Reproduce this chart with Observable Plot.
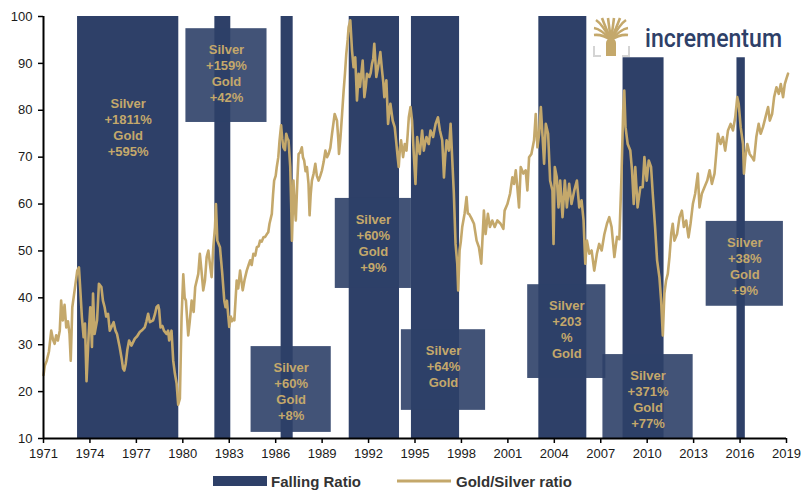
<!DOCTYPE html>
<html><head><meta charset="utf-8">
<script src="https://cdn.jsdelivr.net/npm/d3@7"></script>
<script src="https://cdn.jsdelivr.net/npm/@observablehq/plot@0.6"></script>
<style>
body{margin:0;background:#fff;font-family:Arial,"Liberation Sans",sans-serif;}
#wrap{position:relative;width:811px;height:490px;overflow:hidden;}
#legend{position:absolute;left:0;top:465px;width:811px;height:25px;}
#logo{position:absolute;left:590px;top:12px;}
</style></head><body>
<div id="wrap"><div id="chart"></div><div id="legend"></div>
<svg id="logo" width="210" height="50">
  <g stroke="#c4a86b" stroke-width="2.6" stroke-linecap="butt" fill="none">
    <path d="M21,28 Q12,22 4,23"/>
    <path d="M21,28 Q11,17 4,16"/>
    <path d="M21,28 Q12,12 6,8"/>
    <path d="M21,28 Q15,14 12,6"/>
    <path d="M21,28 Q19,14 18,6"/>
    <path d="M21,28 Q23,14 24,6"/>
    <path d="M21,28 Q27,14 30,6"/>
    <path d="M21,28 Q30,12 36,8"/>
    <path d="M21,28 Q31,17 38,16"/>
    <path d="M21,28 Q30,22 38,23"/>
  </g>
  <path d="M16,44 L16,31 Q16,27 21,26 Q26,27 26,31 L26,44 Z" fill="#c4a86b"/>
  <g stroke="#d4d4d4" stroke-width="2" fill="none">
    <path d="M4,34 V44 H11"/>
    <path d="M39,34 V44 H32"/>
  </g>
  <text x="55" y="35" font-family="Roboto, Arial, sans-serif" font-weight="500" font-size="25" fill="#2e4068" textLength="137" lengthAdjust="spacingAndGlyphs">incrementum</text>
</svg>
</div>
<script>
// Gold/Silver ratio
const ratioYears = [1971.00,1971.08,1971.20,1971.35,1971.50,1971.62,1971.72,1971.82,1971.93,1972.05,1972.14,1972.25,1972.36,1972.47,1972.58,1972.68,1972.76,1972.86,1973.01,1973.18,1973.29,1973.38,1973.48,1973.59,1973.68,1973.78,1973.92,1974.02,1974.13,1974.20,1974.30,1974.46,1974.58,1974.74,1974.84,1974.95,1975.05,1975.17,1975.28,1975.38,1975.53,1975.65,1975.75,1975.92,1976.05,1976.14,1976.22,1976.31,1976.42,1976.53,1976.68,1976.90,1977.05,1977.22,1977.40,1977.54,1977.65,1977.76,1977.87,1978.08,1978.20,1978.30,1978.41,1978.47,1978.56,1978.68,1978.78,1978.95,1979.05,1979.12,1979.27,1979.38,1979.49,1979.60,1979.70,1979.81,1979.92,1980.03,1980.12,1980.20,1980.35,1980.45,1980.57,1980.70,1980.80,1981.00,1981.10,1981.20,1981.32,1981.43,1981.54,1981.65,1981.76,1981.86,1981.97,1982.08,1982.14,1982.23,1982.40,1982.55,1982.68,1982.76,1982.85,1983.00,1983.10,1983.16,1983.25,1983.33,1983.48,1983.58,1983.70,1983.87,1984.00,1984.13,1984.25,1984.35,1984.45,1984.56,1984.68,1984.78,1984.90,1984.99,1985.10,1985.21,1985.32,1985.43,1985.52,1985.60,1985.75,1985.83,1985.90,1986.00,1986.07,1986.17,1986.25,1986.35,1986.42,1986.50,1986.60,1986.68,1986.76,1986.83,1986.94,1987.00,1987.05,1987.10,1987.15,1987.22,1987.30,1987.40,1987.48,1987.58,1987.69,1987.76,1987.84,1987.93,1988.02,1988.12,1988.19,1988.26,1988.34,1988.45,1988.56,1988.66,1988.77,1988.88,1988.99,1989.10,1989.21,1989.32,1989.42,1989.53,1989.64,1989.72,1989.81,1989.96,1990.04,1990.09,1990.18,1990.29,1990.39,1990.48,1990.56,1990.65,1990.71,1990.82,1990.93,1991.03,1991.14,1991.25,1991.36,1991.45,1991.51,1991.62,1991.73,1991.82,1991.90,1992.05,1992.14,1992.22,1992.30,1992.37,1992.45,1992.50,1992.65,1992.76,1992.87,1992.95,1993.02,1993.15,1993.26,1993.35,1993.41,1993.56,1993.69,1993.80,1993.88,1993.95,1994.03,1994.10,1994.23,1994.34,1994.45,1994.53,1994.60,1994.71,1994.81,1994.92,1995.03,1995.14,1995.22,1995.31,1995.46,1995.57,1995.65,1995.74,1995.89,1996.00,1996.17,1996.33,1996.48,1996.61,1996.76,1996.87,1996.95,1997.04,1997.19,1997.30,1997.41,1997.51,1997.62,1997.73,1997.79,1997.88,1997.96,1998.05,1998.20,1998.33,1998.41,1998.49,1998.64,1998.81,1998.98,1999.13,1999.28,1999.45,1999.56,1999.71,1999.84,1999.99,2000.15,2000.32,2000.53,2000.71,2000.79,2000.97,2001.14,2001.29,2001.40,2001.51,2001.61,2001.72,2001.83,2002.00,2002.15,2002.26,2002.37,2002.52,2002.69,2002.80,2002.91,2003.02,2003.13,2003.23,2003.34,2003.45,2003.60,2003.73,2003.88,2003.95,2004.03,2004.16,2004.27,2004.38,2004.53,2004.68,2004.81,2004.96,2005.11,2005.29,2005.46,2005.61,2005.76,2005.89,2006.00,2006.11,2006.26,2006.41,2006.58,2006.75,2006.90,2007.06,2007.23,2007.40,2007.55,2007.70,2007.88,2008.05,2008.20,2008.33,2008.45,2008.52,2008.60,2008.74,2008.91,2009.02,2009.13,2009.23,2009.38,2009.56,2009.71,2009.82,2009.97,2010.10,2010.25,2010.36,2010.51,2010.64,2010.79,2010.90,2011.01,2011.11,2011.22,2011.33,2011.44,2011.55,2011.65,2011.76,2011.93,2012.09,2012.24,2012.37,2012.52,2012.67,2012.80,2012.95,2013.10,2013.27,2013.38,2013.53,2013.70,2013.88,2014.03,2014.18,2014.35,2014.46,2014.57,2014.74,2014.89,2015.04,2015.22,2015.39,2015.54,2015.69,2015.82,2015.91,2016.04,2016.19,2016.25,2016.34,2016.47,2016.62,2016.77,2016.90,2017.05,2017.20,2017.33,2017.48,2017.64,2017.81,2017.92,2018.07,2018.20,2018.35,2018.50,2018.63,2018.78,2018.89,2018.99,2019.10];
const ratioValues = [23.5,25.5,26.5,28.5,33,31,30.2,32,30.9,33,39.4,35.2,38.5,33.7,35,32.3,26.6,38,41.6,45.8,46.5,41.6,35.9,31.6,34.5,22.2,32.3,38,29.5,40.9,32.3,35.2,43,42.3,39.4,38,36,36.6,33,33.7,34.8,33,32.3,29.5,27,24.9,24.5,25.9,29,30.9,29.8,31.3,31.8,32.7,33.2,33.7,35,36.6,34.8,35.2,36.5,38,38.4,37.5,33.7,34,33,32.3,33,30.9,33,26.6,23.8,21.7,17.2,18.5,35.9,45,40,39.4,32,35,39.4,37,42.3,45.1,49.4,46,41.6,43.7,48.7,50.1,47,44.4,50.8,55.1,60,52.2,50.8,45.1,39.4,38,39.4,33.8,36,35,35.5,35.2,43.7,42,45.8,41.6,44,45.8,47,48,47,49.4,49,50.8,51,52.2,52,52.9,53,53.6,54,55.8,57.9,62,65,66,67.9,70,73.6,76.8,74,72.1,71.5,75,74,73.6,67.9,60,52.2,58,65,60,56.5,65,70.7,71,72.1,70,69.3,67,67.9,64.3,57.6,62,65,66.5,68.6,66,65,66,67.2,69,71.4,70,70.7,72,75,77,79.2,77.8,74,70.7,74,79.2,84.2,88,92,95,97.7,99.2,92.8,89.2,91.3,82.1,87.8,85,87.1,90.6,82.8,85,87.8,87.1,88,89.9,91,94.2,90,87.1,89.9,92.4,88.5,86,82.8,86.4,77.1,80,81.4,77.8,76.4,72.8,70,67.9,72,73.6,70,72.8,71.4,75,78.5,80.7,77.8,70.7,64.3,74.3,72,70.7,75.7,71.4,73,74.3,72.8,75.7,74.3,77.1,78.5,75.7,73.6,65.7,70,73.6,71.4,77.1,69.3,62.2,51.5,47.3,41.6,50.1,52,55.1,57.9,61.5,58,57.9,57,55.8,52.2,50.8,47.3,58.6,53.6,57.9,55.1,56.5,55.1,56.5,55.8,54.7,58.6,60,62.2,65.7,64.3,67.2,63.6,59.3,67.9,66.5,67.2,62.9,70,70.7,73.6,79.2,72.1,75,80.7,75,68.6,77.1,75,65,62.9,51.5,67.9,65.7,59.3,65,57.2,65,59.3,64.3,60,62.9,65,59.3,60.8,56.5,47.3,52.2,49.4,50.1,45.8,49.4,51.5,50.1,53.5,55.8,57.2,55.1,48.7,53,52.5,65,80,84.2,76.4,72.8,71.4,67.2,60,67.9,59.3,63.6,63.6,70,65,69.3,67.9,62.2,55.1,48,44.4,39.4,32,40.9,43.7,45.1,48.7,53.6,55.8,52.2,53.6,57.2,58.6,55.1,56.5,52.9,55.8,60,62.2,66.5,59.3,62.2,63.6,65,67.2,64.3,66.5,70.7,75,72.8,74.3,71.4,75.7,77.1,75.7,78.5,82.8,81.4,76.4,72.8,66.5,70,72.8,70.7,70,69.3,74.3,77.1,75,76.4,78.5,80.7,77.8,79.2,82.8,84.9,83.5,85.6,82.8,85.6,86.7,87.8];

// Falling ratio periods
const fallStart = [1973.2, 1982.07, 1986.35, 1990.75, 1994.77, 2003.0, 2008.44, 2015.8];
const fallEnd   = [1979.74, 1983.1, 1987.13, 1994.0, 1997.88, 2006.1, 2011.09, 2016.34];
const fallTop   = [100, 100, 100, 100, 100, 100, 91.2, 91.2];

// Annotations (box extents in data units)
const noteText = ["Silver\n+1811%\nGold\n+595%", "Silver\n+159%\nGold\n+42%", "Silver\n+60%\nGold\n+8%", "Silver\n+60%\nGold\n+9%", "Silver\n+64%\nGold", "Silver\n+203\n%\nGold", "Silver\n+371%\nGold\n+77%", "Silver\n+38%\nGold\n+9%"];
const noteX1     = [1973.2, 1980.2, 1984.41, 1989.85, 1994.12, 2002.28, 2007.14, 2013.81];
const noteX2     = [1979.74, 1985.44, 1989.59, 1994.77, 1999.56, 2007.33, 2012.97, 2018.8];
const noteTop    = [86.0, 97.4, 29.6, 61.2, 33.2, 42.8, 27.9, 56.3];
const noteBottom = [null, 77.4, 11.3, 42.0, 16.0, 22.8, 10, 38.2];

const yearTicks = d3.range(1971, 2020, 3);
const ratioTicks = d3.range(10, 101, 10);

const navy = "#2e4068";
const gold = "#c4a86b";
const yMin = 10;

const series = ratioYears.map((y, i) => ({year: y, ratio: ratioValues[i]}));
const falls = fallStart.map((s, i) => ({start: s, end: fallEnd[i], top: fallTop[i]}));
const notes = noteText.map((t, i) => ({label: t, x1: noteX1[i], x2: noteX2[i], cx: (noteX1[i] + noteX2[i]) / 2, top: noteTop[i], bottom: noteBottom[i]}));
const boxes = notes.filter(d => d.bottom != null);

const chart = Plot.plot({
  width: 811, height: 465,
  marginLeft: 43, marginRight: 25, marginTop: 16, marginBottom: 27,
  style: {fontFamily: "Arial, 'Liberation Sans', sans-serif", fontSize: "13px", color: "#1a1a1a", background: "white", overflow: "visible"},
  x: {domain: [1971, 2019]},
  y: {domain: [10, 100]},
  marks: [
    Plot.rect(falls, {x1: "start", x2: "end", y1: () => yMin, y2: "top", fill: navy}),
    Plot.rect(boxes, {x1: "x1", x2: "x2", y1: "bottom", y2: "top", fill: navy, fillOpacity: 0.9}),
    Plot.line(series, {x: "year", y: "ratio", stroke: gold, strokeWidth: 2.6, strokeLinejoin: "round"}),
    Plot.text(notes, {x: "cx", y: "top", text: "label", lineAnchor: "top", dy: 14, fill: gold, fontWeight: "bold", fontSize: 13, lineHeight: 16/13}),
    Plot.axisX({ticks: yearTicks, tickFormat: d => String(d), tickSize: 5, tickPadding: 5, stroke: "#000", strokeWidth: 1.5}),
    Plot.axisY({ticks: ratioTicks, tickSize: 5, tickPadding: 6, stroke: "#000", strokeWidth: 1.5}),
    Plot.ruleX([1971], {stroke: "#000", strokeWidth: 2}),
    Plot.ruleY([yMin], {stroke: "#000", strokeWidth: 2})
  ]
});
document.getElementById("chart").appendChild(chart);

// Legend
const legend = d3.select("#legend").append("svg").attr("width", 811).attr("height", 25);
legend.append("rect").attr("x", 213).attr("y", 11).attr("width", 54).attr("height", 10).attr("fill", navy);
legend.append("text").attr("x", 271).attr("y", 21.5).text("Falling Ratio")
  .attr("font-family", "Arial, 'Liberation Sans', sans-serif").attr("font-weight", "bold").attr("font-size", 15).attr("fill", "#333");
legend.append("line").attr("x1", 397).attr("x2", 451).attr("y1", 16).attr("y2", 16).attr("stroke", gold).attr("stroke-width", 3);
legend.append("text").attr("x", 456).attr("y", 21.5).text("Gold/Silver ratio")
  .attr("font-family", "Arial, 'Liberation Sans', sans-serif").attr("font-weight", "bold").attr("font-size", 15).attr("fill", "#333");
</script>
</body></html>
